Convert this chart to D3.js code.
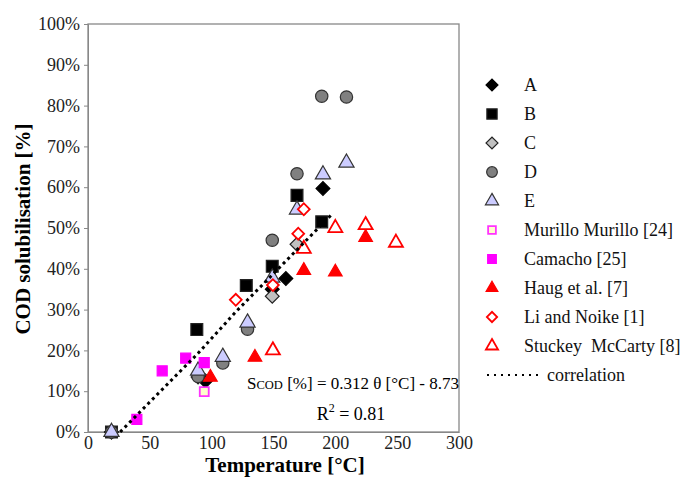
<!DOCTYPE html>
<html>
<head>
<meta charset="utf-8">
<script src="https://cdn.jsdelivr.net/npm/d3@7"></script>
<style>
  body { margin: 0; background: #fff; }
  svg { font-family: "Liberation Serif", "Times New Roman", serif; }
</style>
</head>
<body>
<div class="container"></div>
<script>
// COD solubilisation vs temperature
var width = 682;
var height = 477;

// [temperature °C, solubilisation %]
var seriesA = [[19, 0], [95, 12.5], [149, 35], [160, 37.6], [190, 59.7]];
var seriesB = [[19, 0], [88, 25.1], [128, 35.9], [149, 40.6], [169, 58], [189, 51.5]];
var seriesC = [[19, 0], [89, 13.5], [149, 33.3], [169, 46]];
var seriesD = [[19, 0], [89, 13.6], [109, 16.9], [129, 25.2], [149, 47], [169, 63.3], [189, 82.3], [209, 82.1]];
var seriesE = [[19, 0], [89, 15], [109, 18.4], [129, 26.8], [149, 37.8], [169, 54.5], [190, 63.1], [209, 66]];
var murillo = [[94, 9.9]];
var camacho = [[39.5, 3.1], [60, 15], [79, 18.1], [94, 17]];
var haug = [[99, 13.4], [135, 18.3], [174.5, 39.6], [200, 39.2], [224.5, 47.7]];
var liNoike = [[119.5, 32.4], [149.5, 36], [170, 48.6], [174.5, 54.6]];
var stuckey = [[149.5, 20], [174.5, 44.9], [200, 50], [224.5, 50.7], [249, 46.4]];
var correlation = [[26, 0], [89, 19.3], [120, 29.6], [198, 53.6]];

var seriesNames = ['A', 'B', 'C', 'D', 'E', 'Murillo Murillo [24]', 'Camacho [25]',
    'Haug et al. [7]', 'Li and Noike [1]', 'Stuckey  McCarty [8]'];
var xTicks = [0, 50, 100, 150, 200, 250, 300];
var yTicks = [0, 10, 20, 30, 40, 50, 60, 70, 80, 90, 100];

var styles = [
    { data: seriesA, shape: 'diamond', fill: '#000', stroke: '#000', size: 95 },
    { data: seriesB, shape: 'square', fill: '#000', stroke: '#222', size: 140 },
    { data: seriesC, shape: 'diamond', fill: '#c0c0c0', stroke: '#222', size: 95 },
    { data: seriesD, shape: 'circle', fill: '#808080', stroke: '#333', size: 120 },
    { data: seriesE, shape: 'triangle', fill: '#ccccff', stroke: '#333', size: 100 },
    { data: murillo, shape: 'square', fill: '#ffffcc', stroke: '#ff33ff', size: 80 },
    { data: camacho, shape: 'square', fill: '#ff00ff', stroke: '#ff00ff', size: 100 },
    { data: haug, shape: 'triangle', fill: '#ff0000', stroke: '#ff0000', size: 80 },
    { data: liNoike, shape: 'diamond', fill: '#fff', stroke: '#ff0000', size: 70 },
    { data: stuckey, shape: 'triangle', fill: '#fff', stroke: '#ff0000', size: 85 }
];

var symbolFor = function(shape) {
    if (shape === 'circle') return d3.symbolCircle;
    if (shape === 'triangle') return d3.symbolTriangle;
    return d3.symbolSquare;
};

var draw = function() {
    var plotLeft = 88, plotRight = 459, plotTop = 24, plotBottom = 432;

    var svg = d3.select('.container').append('svg')
        .attr('width', width)
        .attr('height', height);

    var x = d3.scaleLinear().domain([0, 300]).range([plotLeft, plotRight]);
    var y = d3.scaleLinear().domain([0, 100]).range([plotBottom, plotTop]);

    // plot border
    svg.append('rect')
        .attr('x', plotLeft).attr('y', plotTop)
        .attr('width', plotRight - plotLeft).attr('height', plotBottom - plotTop)
        .attr('fill', 'none').attr('stroke', '#888').attr('stroke-width', 1.3);

    var yAxis = svg.append('g')
        .attr('transform', 'translate(' + plotLeft + ',0)')
        .call(d3.axisLeft(y).tickValues(yTicks).tickSize(4).tickPadding(4)
            .tickFormat(function(d) { return d + '%'; }));
    yAxis.select('.domain').attr('stroke', '#888');
    yAxis.selectAll('line').attr('stroke', '#888');
    yAxis.selectAll('text').attr('font-size', 18).attr('fill', '#222')
        .attr('font-family', '"Liberation Serif", serif');

    var xAxis = svg.append('g')
        .attr('transform', 'translate(0,' + plotBottom + ')')
        .call(d3.axisBottom(x).tickValues(xTicks).tickSize(0).tickPadding(4));
    xAxis.select('.domain').attr('stroke', '#888');
    xAxis.selectAll('text').attr('font-size', 18).attr('fill', '#222')
        .attr('font-family', '"Liberation Serif", serif');

    // axis titles
    svg.append('text')
        .attr('x', 285).attr('y', 472)
        .attr('text-anchor', 'middle')
        .attr('font-size', 21).attr('font-weight', 'bold')
        .text('Temperature [°C]');

    svg.append('text')
        .attr('transform', 'translate(30,229) rotate(-90)')
        .attr('text-anchor', 'middle')
        .attr('font-size', 21).attr('font-weight', 'bold')
        .text('COD solubilisation [%]');

    var drawMarker = function(sel, st, size) {
        var open = st.fill === '#fff' || st.fill === '#ffffcc';
        sel.attr('d', d3.symbol().type(symbolFor(st.shape)).size(size))
            .attr('fill', st.fill)
            .attr('stroke', st.stroke)
            .attr('stroke-width', open ? 1.8 : 1.2);
    };

    styles.forEach(function(st) {
        svg.append('g').selectAll('path')
            .data(st.data)
            .enter().append('path')
            .attr('transform', function(d) {
                var t = 'translate(' + x(d[0]) + ',' + y(d[1]) + ')';
                return st.shape === 'diamond' ? t + ' rotate(45)' : t;
            })
            .call(drawMarker, st, st.size);
    });

    // correlation line
    var line = d3.line()
        .x(function(d) { return x(d[0]); })
        .y(function(d) { return y(d[1]); });

    svg.append('path')
        .datum(correlation)
        .attr('d', line)
        .attr('fill', 'none')
        .attr('stroke', '#000')
        .attr('stroke-width', 3)
        .attr('stroke-dasharray', '3,3.5');

    // equation
    var eq = svg.append('text')
        .attr('x', 459).attr('y', 389)
        .attr('text-anchor', 'end')
        .attr('font-size', 17);
    eq.append('tspan').text('S');
    eq.append('tspan').attr('font-size', 12.5).text('COD');
    eq.append('tspan').text(' [%] = 0.312 θ [°C] - 8.73');

    var r2 = svg.append('text')
        .attr('x', 351).attr('y', 420)
        .attr('text-anchor', 'middle')
        .attr('font-size', 18);
    r2.append('tspan').text('R');
    r2.append('tspan').attr('font-size', 12).attr('dy', -8).text('2');
    r2.append('tspan').attr('dy', 8).text(' = 0.81');

    // legend
    var legendY = d3.scalePoint().domain(d3.range(11)).range([85, 375]);
    var legend = svg.append('g');

    styles.forEach(function(st, i) {
        var cy = legendY(i);
        legend.append('path')
            .attr('transform', 'translate(492,' + cy + ')' + (st.shape === 'diamond' ? ' rotate(45)' : ''))
            .call(drawMarker, st, st.size * 0.75);
        legend.append('text')
            .attr('x', 524).attr('y', cy + 6)
            .attr('font-size', 18)
            .attr('fill', '#111')
            .style('white-space', 'pre')
            .text(seriesNames[i]);
    });

    legend.append('line')
        .attr('x1', 487).attr('x2', 541)
        .attr('y1', legendY(10)).attr('y2', legendY(10))
        .attr('stroke', '#000').attr('stroke-width', 2)
        .attr('stroke-dasharray', '2,5');
    legend.append('text')
        .attr('x', 547).attr('y', legendY(10) + 6)
        .attr('font-size', 18)
        .attr('fill', '#111')
        .text('correlation');
};

draw();
</script>
</body>
</html>
